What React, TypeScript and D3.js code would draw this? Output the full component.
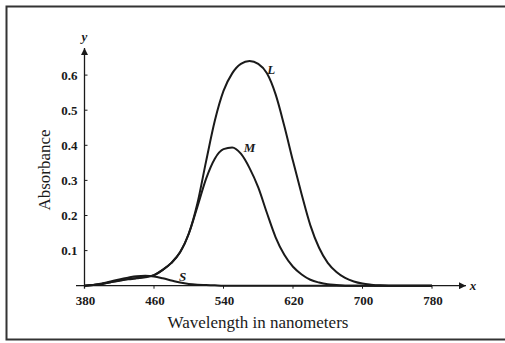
import React, { useEffect, useRef } from 'react';
import * as d3 from 'd3';

// wavelengths (nm) sampled every 10 nm
const wavelengths = [
  380, 390, 400, 410, 420, 430, 440, 450, 460, 470, 480, 490, 500, 510, 520, 530, 540, 550, 560, 570,
  580, 590, 600, 610, 620, 630, 640, 650, 660, 670, 680, 690, 700, 710, 720, 730, 740, 750, 760, 770, 780,
];

// absorbance
const lValues = [
  0, 0.002, 0.005, 0.01, 0.015, 0.019, 0.022, 0.025, 0.03, 0.045, 0.065, 0.095, 0.148, 0.235, 0.355, 0.47, 0.555, 0.605, 0.632, 0.64,
  0.632, 0.605, 0.545, 0.455, 0.355, 0.26, 0.172, 0.108, 0.065, 0.039, 0.022, 0.012, 0.006, 0.003, 0.001, 0, 0, 0, 0, 0, 0,
];
const mValues = [
  0, 0.002, 0.005, 0.01, 0.014, 0.018, 0.021, 0.024, 0.03, 0.045, 0.065, 0.095, 0.148, 0.225, 0.305, 0.362, 0.389, 0.394, 0.376, 0.335,
  0.28, 0.207, 0.138, 0.088, 0.054, 0.032, 0.017, 0.009, 0.004, 0.002, 0, 0, 0, 0, 0, 0, 0, 0, 0, 0, 0,
];
const sValues = [
  0, 0.002, 0.006, 0.012, 0.018, 0.023, 0.027, 0.028, 0.026, 0.021, 0.015, 0.009, 0.005, 0.003, 0.002, 0.001, 0, 0, 0, 0,
  0, 0, 0, 0, 0, 0, 0, 0, 0, 0, 0, 0, 0, 0, 0, 0, 0, 0, 0, 0, 0,
];

const xTicks = [380, 460, 540, 620, 700, 780];
const yTicks = [0.1, 0.2, 0.3, 0.4, 0.5, 0.6];

// curve labels: name, wavelength, absorbance
const curveLabels = [
  { name: 'L', nm: 595, value: 0.615 },
  { name: 'M', nm: 570, value: 0.393 },
  { name: 'S', nm: 493, value: 0.026 },
];

const App = () => {
  const ref = useRef<SVGSVGElement | null>(null);

  useEffect(() => {
    const svg = d3.select(ref.current);
    svg.selectAll('*').remove();

    const ink = '#1a1a1a';
    const serif = '"Liberation Serif", "DejaVu Serif", serif';

    const x = d3.scaleLinear().domain([380, 780]).range([84.5, 432]);
    const y = d3.scaleLinear().domain([0, 0.6]).range([285.7, 75.1]);

    // outer frame (right edge runs off the picture)
    svg.append('rect')
      .attr('x', 6.5).attr('y', 6.5)
      .attr('width', 520).attr('height', 333)
      .attr('fill', 'none')
      .attr('stroke', '#333')
      .attr('stroke-width', 2);

    // arrow heads
    const defs = svg.append('defs');
    defs.append('marker')
      .attr('id', 'arrow')
      .attr('viewBox', '0 0 10 10')
      .attr('refX', 10).attr('refY', 5)
      .attr('markerWidth', 9).attr('markerHeight', 7)
      .attr('markerUnits', 'userSpaceOnUse')
      .attr('orient', 'auto')
      .append('path')
      .attr('d', 'M0,0 L10,5 L0,10 Z')
      .attr('fill', ink);

    // axes
    svg.append('line')
      .attr('x1', 76).attr('x2', 466)
      .attr('y1', y(0)).attr('y2', y(0))
      .attr('stroke', ink).attr('stroke-width', 1.3)
      .attr('marker-end', 'url(#arrow)');
    svg.append('line')
      .attr('x1', x(380)).attr('x2', x(380))
      .attr('y1', y(0) + 3).attr('y2', 48)
      .attr('stroke', ink).attr('stroke-width', 1.3)
      .attr('marker-end', 'url(#arrow)');

    svg.append('text')
      .attr('x', 473).attr('y', y(0) + 4)
      .attr('text-anchor', 'middle')
      .attr('font-family', serif).attr('font-style', 'italic').attr('font-weight', 'bold')
      .attr('font-size', 13).attr('fill', ink)
      .text('x');
    svg.append('text')
      .attr('x', x(380)).attr('y', 41)
      .attr('text-anchor', 'middle')
      .attr('font-family', serif).attr('font-style', 'italic').attr('font-weight', 'bold')
      .attr('font-size', 13).attr('fill', ink)
      .text('y');

    // x ticks
    const xt = svg.append('g');
    xt.selectAll('line')
      .data(xTicks.slice(1))
      .enter().append('line')
      .attr('x1', d => x(d)).attr('x2', d => x(d))
      .attr('y1', y(0)).attr('y2', y(0) + 3)
      .attr('stroke', ink);
    xt.selectAll('text')
      .data(xTicks)
      .enter().append('text')
      .attr('x', d => x(d) + 1)
      .attr('y', 305)
      .attr('text-anchor', 'middle')
      .attr('font-family', serif).attr('font-weight', 'bold')
      .attr('font-size', 13).attr('fill', ink)
      .text(d => d);

    // y ticks
    const yt = svg.append('g');
    yt.selectAll('line')
      .data(yTicks)
      .enter().append('line')
      .attr('x1', x(380)).attr('x2', x(380) + 3)
      .attr('y1', d => y(d)).attr('y2', d => y(d))
      .attr('stroke', ink);
    yt.selectAll('text')
      .data(yTicks)
      .enter().append('text')
      .attr('x', 77.5)
      .attr('y', d => y(d) + 4.5)
      .attr('text-anchor', 'end')
      .attr('font-family', serif).attr('font-weight', 'bold')
      .attr('font-size', 13).attr('fill', ink)
      .text(d => d3.format('.1f')(d));

    // axis titles
    svg.append('text')
      .attr('x', 258).attr('y', 328)
      .attr('text-anchor', 'middle')
      .attr('font-family', serif).attr('font-size', 17).attr('fill', ink)
      .text('Wavelength in nanometers');
    svg.append('text')
      .attr('transform', 'translate(50,170) rotate(-90)')
      .attr('text-anchor', 'middle')
      .attr('font-family', serif).attr('font-size', 17).attr('fill', ink)
      .text('Absorbance');

    // curves
    const line = d3.line<number>()
      .x((d, i) => x(wavelengths[i]))
      .y(d => y(d))
      .curve(d3.curveMonotoneX);

    [sValues, mValues, lValues].forEach(series => {
      svg.append('path')
        .datum(series)
        .attr('d', line)
        .attr('fill', 'none')
        .attr('stroke', ink)
        .attr('stroke-width', 2);
    });

    svg.selectAll('text.curve-label')
      .data(curveLabels)
      .enter().append('text')
      .attr('class', 'curve-label')
      .attr('x', d => x(d.nm))
      .attr('y', d => y(d.value) + 4.5)
      .attr('text-anchor', 'middle')
      .attr('font-family', serif).attr('font-style', 'italic').attr('font-weight', 'bold')
      .attr('font-size', 13).attr('fill', ink)
      .text(d => d.name);
  }, []);

  return (
    <svg
      ref={ref}
      width={505}
      height={343}
      style={{ position: 'absolute', left: 0, top: 0, background: '#fff' }}
    />
  );
};

export default App;
